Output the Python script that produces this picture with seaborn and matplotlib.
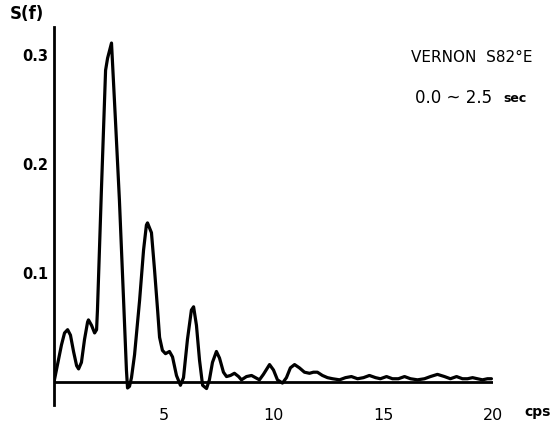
import matplotlib
matplotlib.use("Agg")
import matplotlib.pyplot as plt
import seaborn as sns
import pandas as pd

# Frequency (cps) and Fourier spectrum S(f)
freq = [0.00, 0.16, 0.34, 0.48, 0.62, 0.75, 0.89, 1.03, 1.12, 1.25, 1.39, 1.53, 1.57,
        1.71, 1.85, 1.94, 1.98, 2.16, 2.35, 2.44, 2.62, 2.80, 2.98, 3.17, 3.30, 3.35,
        3.44, 3.53, 3.67, 3.90, 4.08, 4.21, 4.26, 4.44, 4.58, 4.72, 4.81, 4.94, 5.08,
        5.26, 5.40, 5.58, 5.76, 5.90, 6.08, 6.26, 6.36, 6.49, 6.63, 6.77, 6.95, 7.08,
        7.22, 7.40, 7.54, 7.72, 7.86, 8.04, 8.22, 8.41, 8.54, 8.77, 9.00, 9.18, 9.36,
        9.54, 9.82, 10.00, 10.18, 10.41, 10.59, 10.77, 10.96, 11.18, 11.41, 11.64,
        11.82, 12.00, 12.23, 12.46, 12.69, 13.01, 13.28, 13.55, 13.83, 14.10, 14.37,
        14.65, 14.87, 15.15, 15.42, 15.69, 15.97, 16.24, 16.56, 16.88, 17.15, 17.47,
        17.79, 18.06, 18.34, 18.61, 18.84, 19.07, 19.29, 19.52, 19.75, 19.93]
spectrum = [0.000, 0.016, 0.034, 0.045, 0.048, 0.043, 0.028, 0.015, 0.012, 0.018, 0.039,
            0.055, 0.057, 0.052, 0.045, 0.048, 0.066, 0.176, 0.286, 0.297, 0.311, 0.240,
            0.167, 0.075, 0.011, -0.0055, -0.004, 0.004, 0.025, 0.075, 0.121, 0.144,
            0.146, 0.137, 0.103, 0.066, 0.041, 0.029, 0.026, 0.028, 0.023, 0.006, -0.003,
            0.004, 0.039, 0.066, 0.069, 0.052, 0.020, -0.003, -0.006, 0.002, 0.018, 0.028,
            0.022, 0.009, 0.005, 0.006, 0.008, 0.005, 0.002, 0.005, 0.006, 0.004, 0.002,
            0.007, 0.016, 0.011, 0.002, -0.001, 0.004, 0.013, 0.016, 0.013, 0.009, 0.008,
            0.009, 0.009, 0.006, 0.004, 0.003, 0.002, 0.004, 0.005, 0.003, 0.004, 0.006,
            0.004, 0.003, 0.005, 0.003, 0.003, 0.005, 0.003, 0.002, 0.003, 0.005, 0.007,
            0.005, 0.003, 0.005, 0.003, 0.003, 0.004, 0.003, 0.002, 0.003, 0.003]

x_ticks = [5, 10, 15, 20]
y_ticks = [0.1, 0.2, 0.3]
y_tick_labels = ["0.1", "0.2", "0.3"]
station = "VERNON  S82°E"
window = "0.0 ~ 2.5"

sns.set_theme(style="white")
plt.rcParams["font.family"] = ["DejaVu Sans"]
plt.rcParams["text.color"] = "black"
plt.rcParams["xtick.color"] = "black"
plt.rcParams["ytick.color"] = "black"

df = pd.DataFrame({"f": freq, "S": spectrum})

fig = plt.figure(figsize=(5.59, 4.24), dpi=100)
ax = fig.add_axes([0.0966, 0.0448, 0.7853, 0.8915])

line_kw = dict(solid_joinstyle="round", solid_capstyle="round")
sns.lineplot(data=df, x="f", y="S", ax=ax, color="black", linewidth=2.3,
             sort=False, estimator=None, **line_kw)
ax.axhline(0, color="black", linewidth=2.0, zorder=1)

ax.set_xlim(0, 20)
ax.set_ylim(-0.0211, 0.3257)
ax.set_xticks(x_ticks)
ax.set_xticklabels([str(t) for t in x_ticks], fontsize=11.5, color="black")
ax.set_yticks(y_ticks)
ax.set_yticklabels(y_tick_labels, fontsize=10.5, fontweight="bold", color="black")
ax.tick_params(axis="both", length=0, colors="black")
ax.tick_params(axis="x", pad=2)
ax.tick_params(axis="y", pad=4)
ax.set_xlabel("")
ax.set_ylabel("")

for s in ["top", "right", "bottom"]:
    ax.spines[s].set_visible(False)
ax.spines["left"].set_color("black")
ax.spines["left"].set_linewidth(2.0)

fig.text(10 / 559, 1 - 14 / 424, "S(f)", fontsize=12, fontweight="bold",
         ha="left", va="center", color="black")
fig.text(538 / 559, 1 - 412 / 424, "cps", fontsize=10, fontweight="bold",
         ha="center", va="center", color="black")
fig.text(472 / 559, 1 - 58 / 424, station, fontsize=11, ha="center", va="center",
         color="black")
fig.text(415 / 559, 1 - 98 / 424, window, fontsize=12, ha="left", va="center",
         color="black")
fig.text(503 / 559, 1 - 99 / 424, "sec", fontsize=9, fontweight="bold",
         ha="left", va="center", color="black")

fig.savefig("out.png", dpi=100)
